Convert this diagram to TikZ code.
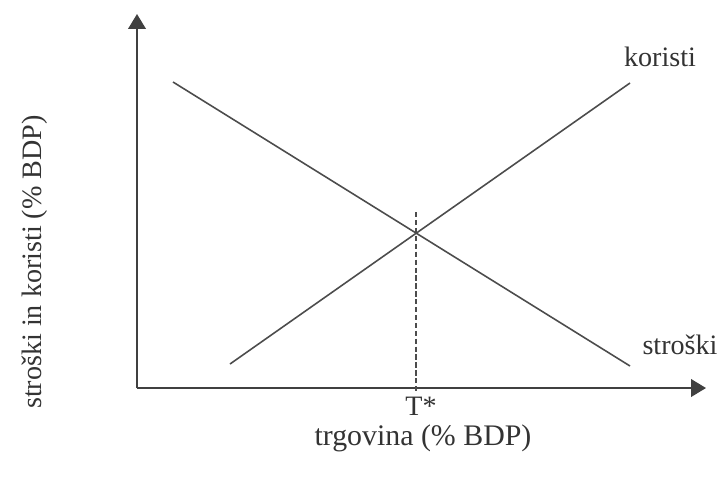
\documentclass[tikz,border=0pt]{standalone}
\usepackage{fontspec}
\setmainfont{Liberation Serif}
\usepackage{tikz}
\usetikzlibrary{arrows.meta}

\begin{document}
\begin{tikzpicture}[
    x=0.02cm, y=-0.02cm,
    axis/.style={draw=black!75, line width=1.1pt, -{Triangle[length=8.5pt, width=10pt]}},
    curve/.style={draw=black!70, line width=0.9pt},
    every node/.style={font=\fontsize{16}{19}\selectfont, text=black!80},
]
  \useasboundingbox (0,0) rectangle (726,481);
  \coordinate (O) at (137,388);
  \coordinate (ytip) at (137,14);
  \coordinate (xtip) at (706,388);
  \coordinate (k1) at (230,364);
  \coordinate (k2) at (630,83);
  \coordinate (s1) at (173,82);
  \coordinate (s2) at (630,366);
  \coordinate (X) at (intersection of k1--k2 and s1--s2);

  % axes
  \draw[axis] (O) -- (ytip);
  \draw[axis] (O) -- (xtip);
  % costs and benefits
  \draw[curve] (k1) -- (k2);
  \draw[curve] (s1) -- (s2);
  \draw[black!70, line width=0.9pt, dash pattern=on 3pt off 1.5pt]
    ([yshift=0.42cm]X) -- (X |- O) -- ++(0,5);

  \node (koristi) at (660,57) {koristi};
  \node (stroski) at (680,345) {stroški};
  \node (tstar) at (421,406) {T*};
  \node[font=\fontsize{17}{20}\selectfont] (trg) at (423,438) {trgovina (\% BDP)};
  \node[rotate=90] (ylab) at (35,262) {stroški in koristi (\% BDP)};
\end{tikzpicture}
\end{document}
